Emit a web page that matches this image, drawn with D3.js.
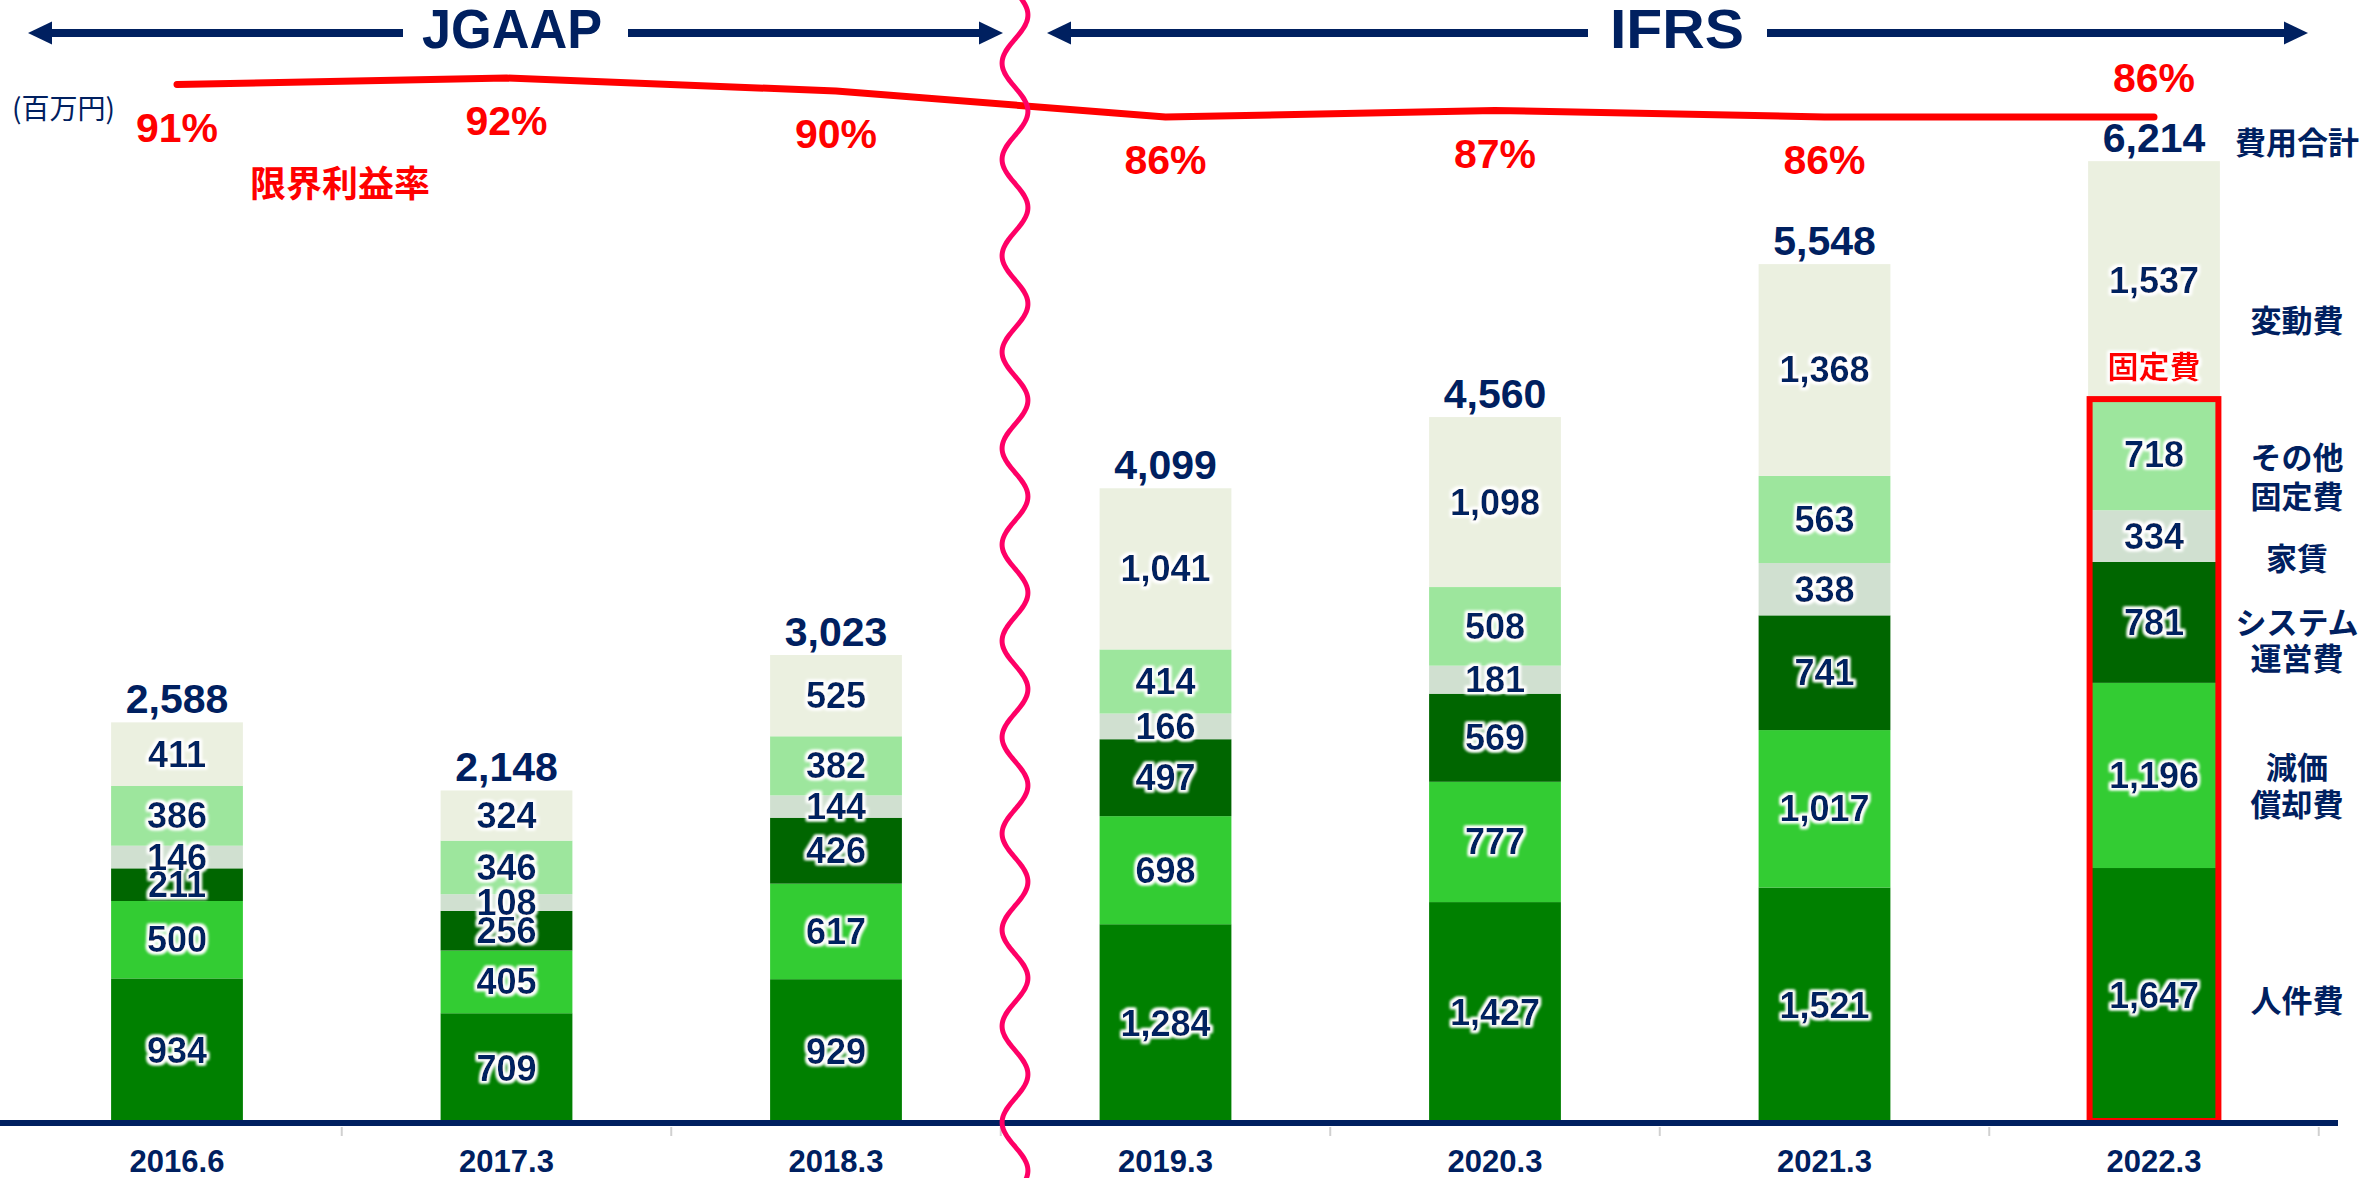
<!DOCTYPE html>
<html>
<head>
<meta charset="utf-8">
<script src="https://cdn.jsdelivr.net/npm/d3@7"></script>
<style>
  html, body { margin: 0; padding: 0; background: #fff; }
  svg { display: block; }
</style>
</head>
<body>
<svg id="chart" width="2367" height="1178"></svg>
<script>
// Fiscal periods and cost breakdown (million yen), stacked bottom to top
const periods = ["2016.6", "2017.3", "2018.3", "2019.3", "2020.3", "2021.3", "2022.3"];
const personnel = [934, 709, 929, 1284, 1427, 1521, 1647];
const depreciation = [500, 405, 617, 698, 777, 1017, 1196];
const systemOps = [211, 256, 426, 497, 569, 741, 781];
const rent = [146, 108, 144, 166, 181, 338, 334];
const otherFixed = [386, 346, 382, 414, 508, 563, 718];
const variableCost = [411, 324, 525, 1041, 1098, 1368, 1537];
const totals = [2588, 2148, 3023, 4099, 4560, 5548, 6214];
// Marginal profit ratio (%)
const marginRates = [91, 92, 90, 86, 87, 86, 86];

const seriesKeys = ["personnel", "depreciation", "systemOps", "rent", "otherFixed", "variableCost"];
const seriesLabels = [["人件費"], ["減価", "償却費"], ["システム", "運営費"], ["家賃"], ["その他", "固定費"], ["変動費"]];
const seriesColors = ["#008000", "#33CC33", "#006600", "#D0E0D0", "#9DE69D", "#EBF0E0"];

const NAVY = "#002060";
const RED = "#FF0000";
const NUM_FONT = "'Liberation Sans', Arial, sans-serif";
const JP_FONT = "'Noto Sans CJK JP', 'Noto Sans', sans-serif";

const svg = d3.select("#chart");

// glow used behind the in-bar labels
const defs = svg.append("defs");
const glow = defs.append("filter").attr("id", "glow")
  .attr("x", "-20%").attr("y", "-30%").attr("width", "140%").attr("height", "160%");
glow.append("feMorphology").attr("in", "SourceAlpha").attr("operator", "dilate").attr("radius", 2).attr("result", "d");
glow.append("feGaussianBlur").attr("in", "d").attr("stdDeviation", 1.4).attr("result", "b");
glow.append("feFlood").attr("flood-color", "#ffffff").attr("result", "w");
glow.append("feComposite").attr("in", "w").attr("in2", "b").attr("operator", "in").attr("result", "halo");
const merge = glow.append("feMerge");
merge.append("feMergeNode").attr("in", "halo");
merge.append("feMergeNode").attr("in", "halo");
merge.append("feMergeNode").attr("in", "SourceGraphic");

// scales
const x = d3.scaleBand().domain(periods).range([12.25, 2318.75]).paddingInner(0.6).paddingOuter(0.3);
const y = d3.scaleLinear().domain([0, 6214]).range([1123, 161]);
const yRate = d3.scaleLinear().domain([86, 92]).range([117, 78]);

const table = periods.map((p, i) => ({
  period: p,
  personnel: personnel[i],
  depreciation: depreciation[i],
  systemOps: systemOps[i],
  rent: rent[i],
  otherFixed: otherFixed[i],
  variableCost: variableCost[i]
}));
const stacked = d3.stack().keys(seriesKeys)(table);

// stacked bars
const layers = svg.append("g").selectAll("g").data(stacked).join("g")
  .attr("fill", (d, i) => seriesColors[i]);
layers.selectAll("rect").data(d => d).join("rect")
  .attr("x", d => x(d.data.period))
  .attr("width", x.bandwidth())
  .attr("y", d => y(d[1]))
  .attr("height", d => y(d[0]) - y(d[1]));

// segment values
const segLabels = svg.append("g")
  .attr("font-family", NUM_FONT).attr("font-weight", "bold").attr("font-size", 36)
  .attr("fill", NAVY).attr("text-anchor", "middle").attr("filter", "url(#glow)");
stacked.forEach(layer => {
  segLabels.selectAll(null).data(layer).join("text")
    .attr("x", d => x(d.data.period) + x.bandwidth() / 2)
    .attr("y", d => (y(d[0]) + y(d[1])) / 2)
    .attr("dominant-baseline", "central")
    .text(d => d3.format(",")(d[1] - d[0]));
});

// totals above bars
svg.append("g").selectAll("text").data(totals).join("text")
  .attr("x", (d, i) => x(periods[i]) + x.bandwidth() / 2)
  .attr("y", d => y(d) - 9)
  .attr("text-anchor", "middle")
  .attr("font-family", NUM_FONT).attr("font-weight", "bold").attr("font-size", 41)
  .attr("fill", NAVY)
  .text(d => d3.format(",")(d));

// frame around the fixed-cost part of the latest period
const last = periods.length - 1;
const fixedTop = stacked[4][last][1];
svg.append("rect")
  .attr("x", x(periods[last]) + 1.5)
  .attr("width", x.bandwidth() - 3)
  .attr("y", y(fixedTop))
  .attr("height", y(0) - y(fixedTop) - 2)
  .attr("fill", "none").attr("stroke", RED).attr("stroke-width", 6);
svg.append("text")
  .attr("x", x(periods[last]) + x.bandwidth() / 2)
  .attr("y", 364)
  .attr("text-anchor", "middle").attr("dominant-baseline", "central")
  .attr("font-family", JP_FONT).attr("font-weight", "bold").attr("font-size", 31)
  .attr("fill", RED).attr("filter", "url(#glow)")
  .text("固定費");

// category axis
svg.append("line").attr("x1", 0).attr("x2", 2338).attr("y1", 1123).attr("y2", 1123)
  .attr("stroke", NAVY).attr("stroke-width", 6);
const step = x.step();
const bounds = periods.map(p => x(p) - step * x.paddingInner() / 2).concat([x(periods[last]) + x.bandwidth() + step * x.paddingInner() / 2]);
svg.append("g").selectAll("line").data(bounds.slice(1)).join("line")
  .attr("x1", d => d).attr("x2", d => d).attr("y1", 1127).attr("y2", 1136)
  .attr("stroke", "#D0D0D0").attr("stroke-width", 2);
const xAxis = svg.append("g").attr("transform", "translate(0,1123)")
  .call(d3.axisBottom(x).tickSize(0).tickPadding(27));
xAxis.select(".domain").remove();
xAxis.selectAll("text")
  .attr("font-family", NUM_FONT).attr("font-weight", "bold").attr("font-size", 31)
  .attr("fill", NAVY);

// marginal profit ratio line
const rateLine = d3.line()
  .x((d, i) => x(periods[i]) + x.bandwidth() / 2)
  .y(d => yRate(d));
svg.append("path").datum(marginRates)
  .attr("d", rateLine)
  .attr("fill", "none").attr("stroke", RED).attr("stroke-width", 7)
  .attr("stroke-linecap", "round").attr("stroke-linejoin", "round");
svg.append("g").selectAll("text").data(marginRates).join("text")
  .attr("x", (d, i) => x(periods[i]) + x.bandwidth() / 2)
  .attr("y", (d, i) => yRate(d) + (i === last ? -39 : 43))
  .attr("text-anchor", "middle").attr("dominant-baseline", "central")
  .attr("font-family", NUM_FONT).attr("font-weight", "bold").attr("font-size", 41)
  .attr("fill", RED)
  .text(d => d + "%");
svg.append("text")
  .attr("x", 340).attr("y", 181)
  .attr("text-anchor", "middle").attr("dominant-baseline", "central")
  .attr("font-family", JP_FONT).attr("font-weight", "bold").attr("font-size", 36)
  .attr("fill", RED)
  .text("限界利益率");

// unit
svg.append("text")
  .attr("x", 12).attr("y", 107)
  .attr("dominant-baseline", "central")
  .attr("font-family", JP_FONT).attr("font-size", 28)
  .attr("fill", NAVY)
  .text("(百万円)");

// series names on the right
const legendX = 2297;
const legendY = [[998], [765, 802], [620, 656], [556], [455, 494], [318]];
const legend = svg.append("g")
  .attr("font-family", JP_FONT).attr("font-weight", "bold").attr("font-size", 31)
  .attr("fill", NAVY).attr("text-anchor", "middle");
seriesLabels.forEach((lines, i) => {
  lines.forEach((t, j) => {
    legend.append("text").attr("x", legendX).attr("y", legendY[i][j])
      .attr("dominant-baseline", "central").text(t);
  });
});
legend.append("text").attr("x", legendX).attr("y", 140)
  .attr("dominant-baseline", "central").text("費用合計");

// accounting standard headers with double arrows
function header(label, leftTip, leftEnd, textCx, textW, rightStart, rightTip) {
  const g = svg.append("g").attr("fill", NAVY);
  const yc = 33, hl = 24, hh = 11.5;
  g.append("rect").attr("x", leftTip + hl - 2).attr("y", yc - 4).attr("width", leftEnd - leftTip - hl + 2).attr("height", 8);
  g.append("rect").attr("x", rightStart).attr("y", yc - 4).attr("width", rightTip - hl + 2 - rightStart).attr("height", 8);
  g.append("path").attr("d", `M${leftTip},${yc} L${leftTip + hl},${yc - hh} L${leftTip + hl},${yc + hh} Z`);
  g.append("path").attr("d", `M${rightTip},${yc} L${rightTip - hl},${yc - hh} L${rightTip - hl},${yc + hh} Z`);
  g.append("text").attr("x", textCx).attr("y", 48)
    .attr("text-anchor", "middle")
    .attr("font-family", NUM_FONT).attr("font-weight", "bold").attr("font-size", 55)
    .attr("textLength", textW).attr("lengthAdjust", "spacingAndGlyphs")
    .text(label);
}
header("JGAAP", 28, 403, 512, 180, 628, 1003);
header("IFRS", 1047, 1588, 1677, 134, 1767, 2308);

// wavy divider between the two standards
const wavePts = d3.range(-20, 1200, 3).map(v => [1015 + 13 * Math.cos(2 * Math.PI * (v - 15) / 96.3), v]);
svg.append("path")
  .attr("d", d3.line().curve(d3.curveBasis)(wavePts))
  .attr("fill", "none").attr("stroke", "#FF0066").attr("stroke-width", 5);
</script>
</body>
</html>
